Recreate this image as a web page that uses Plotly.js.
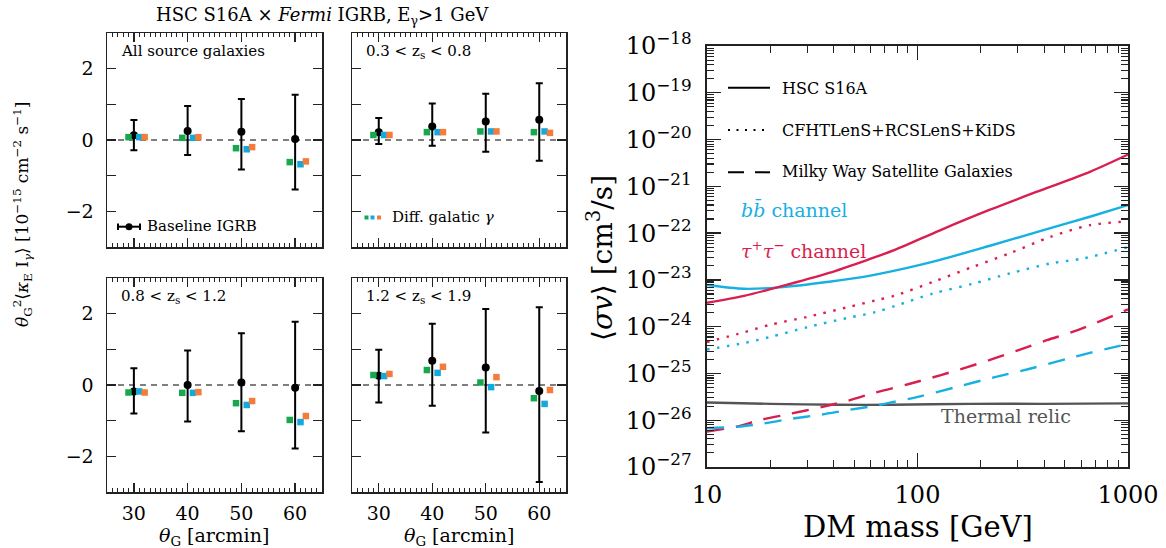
<!DOCTYPE html>
<html><head><meta charset="utf-8">
<script src="https://cdn.plot.ly/plotly-3.0.1.min.js"></script>
<style>html,body{margin:0;padding:0;background:#fff}#chart{width:1166px;height:548px}</style>
</head><body><div id="chart"></div>
<script>
// ---------------- DATA: left panels ----------------
const thetaG = [30, 40, 50, 60];
const offsetGreen = -1, offsetCyan = 1, offsetOrange = 2;
const panelLabels = ['All source galaxies', '0.3 &lt; z<sub>s</sub> &lt; 0.8', '0.8 &lt; z<sub>s</sub> &lt; 1.2', '1.2 &lt; z<sub>s</sub> &lt; 1.9'];

const baseAll   = [0.13, 0.25, 0.23, 0.03];
const errUpAll  = [0.43, 0.70, 0.92, 1.24];
const errDnAll  = [0.42, 0.67, 1.06, 1.42];
const greenAll  = [0.08, 0.06, -0.23, -0.62];
const cyanAll   = [0.08, 0.06, -0.26, -0.68];
const orangeAll = [0.08, 0.08, -0.20, -0.60];

const baseZ1   = [0.22, 0.38, 0.52, 0.57];
const errUpZ1  = [0.40, 0.64, 0.78, 1.02];
const errDnZ1  = [0.33, 0.54, 0.85, 1.15];
const greenZ1  = [0.14, 0.22, 0.24, 0.22];
const cyanZ1   = [0.14, 0.22, 0.24, 0.24];
const orangeZ1 = [0.14, 0.22, 0.24, 0.20];

const baseZ2   = [-0.18, 0.00, 0.07, -0.08];
const errUpZ2  = [0.65, 0.97, 1.38, 1.85];
const errDnZ2  = [0.62, 1.02, 1.37, 1.70];
const greenZ2  = [-0.21, -0.22, -0.51, -0.98];
const cyanZ2   = [-0.18, -0.22, -0.56, -1.04];
const orangeZ2 = [-0.21, -0.20, -0.45, -0.87];

const baseZ3   = [0.26, 0.68, 0.49, -0.17];
const errUpZ3  = [0.73, 1.04, 1.64, 2.35];
const errDnZ3  = [0.75, 1.26, 1.82, 2.55];
const greenZ3  = [0.28, 0.42, 0.07, -0.37];
const cyanZ3   = [0.25, 0.34, -0.06, -0.53];
const orangeZ3 = [0.31, 0.51, 0.22, -0.14];

// ---------------- DATA: right panel ----------------
const massTauHSC = [10, 15, 22, 38, 58, 78, 128, 221, 382, 659, 1000];
const svTauHSC   = [3.24e-24, 4.57e-24, 7.08e-24, 1.41e-23, 2.69e-23, 4.37e-23, 1.15e-22, 3.16e-22, 8.13e-22, 2.04e-21, 4.79e-21];
const massBbHSC  = [10, 15, 22, 38, 58, 78, 128, 221, 382, 659, 1000];
const svBbHSC    = [7.76e-24, 6.46e-24, 6.92e-24, 9.12e-24, 1.20e-23, 1.58e-23, 2.69e-23, 5.37e-23, 1.10e-22, 2.24e-22, 3.98e-22];
const massTauCFHT = [10, 15, 20, 30, 47, 63, 79, 119, 184, 275, 427, 660, 1000];
const svTauCFHT   = [4.68e-25, 7.59e-25, 1.10e-24, 1.62e-24, 2.63e-24, 3.63e-24, 4.68e-24, 9.12e-24, 1.91e-23, 3.72e-23, 8.32e-23, 1.48e-22, 1.78e-22];
const massBbCFHT  = [10, 15, 20, 30, 47, 63, 79, 119, 184, 275, 427, 614, 1000];
const svBbCFHT    = [3.24e-25, 4.47e-25, 6.03e-25, 9.77e-25, 1.55e-24, 2.04e-24, 2.82e-24, 5.13e-24, 8.32e-24, 1.38e-23, 2.24e-23, 2.88e-23, 5.01e-23];
const massTauMW = [10, 14, 18, 25, 35, 47, 63, 92, 128, 171, 228, 307, 411, 572, 1000];
const svTauMW   = [5.75e-27, 7.41e-27, 1.02e-26, 1.38e-26, 1.91e-26, 2.63e-26, 3.89e-26, 6.03e-26, 9.12e-26, 1.35e-25, 2.04e-25, 3.24e-25, 5.13e-25, 8.32e-25, 2.34e-24];
const massBbMW  = [10, 14, 18, 25, 35, 47, 63, 75, 103, 153, 228, 342, 510, 659, 1000];
const svBbMW    = [6.76e-27, 7.24e-27, 8.32e-27, 1.07e-26, 1.32e-26, 1.66e-26, 2.04e-26, 2.40e-26, 3.24e-26, 5.13e-26, 8.13e-26, 1.26e-25, 2.04e-25, 2.75e-25, 4.27e-25];
const massRelic = [10, 20, 42, 76, 176, 391, 1000];
const svRelic   = [2.40e-26, 2.24e-26, 2.14e-26, 2.14e-26, 2.24e-26, 2.24e-26, 2.29e-26];

const yTickVals5 = [1e-27, 1e-26, 1e-25, 1e-24, 1e-23, 1e-22, 1e-21, 1e-20, 1e-19, 1e-18];
const yTickText5 = ['10<sup>−27</sup>','10<sup>−26</sup>','10<sup>−25</sup>','10<sup>−24</sup>','10<sup>−23</sup>','10<sup>−22</sup>','10<sup>−21</sup>','10<sup>−20</sup>','10<sup>−19</sup>','10<sup>−18</sup>'];
const xTickVals5 = [10, 100, 1000];
const xTickText5 = ['10', '100', '1000'];

// ---------------- STYLE ----------------
const W = 1166, H = 548;
const FONT = 'DejaVu Serif';
const GREEN = '#16a74f', CYAN = '#12a9de', ORANGE = '#f47b3a';
const RED = '#d91f4f', LCYAN = '#16b0e2', GRAY = '#555555';
const px = v => v / W, py = v => 1 - v / H;

const panels = [
  {base: baseAll, up: errUpAll, dn: errDnAll, g: greenAll, c: cyanAll, o: orangeAll},
  {base: baseZ1, up: errUpZ1, dn: errDnZ1, g: greenZ1, c: cyanZ1, o: orangeZ1},
  {base: baseZ2, up: errUpZ2, dn: errDnZ2, g: greenZ2, c: cyanZ2, o: orangeZ2},
  {base: baseZ3, up: errUpZ3, dn: errDnZ3, g: greenZ3, c: cyanZ3, o: orangeZ3}
];
const boxes = [
  {x: [107, 322], y: [33, 247]},
  {x: [352, 566], y: [33, 247]},
  {x: [107, 322], y: [278, 492]},
  {x: [352, 566], y: [278, 492]}
];

const traces = [];
const layout = {
  width: W, height: H,
  margin: {l: 0, r: 0, t: 0, b: 0},
  paper_bgcolor: '#fff', plot_bgcolor: '#fff',
  showlegend: false,
  font: {family: FONT, color: '#000'},
  shapes: [], annotations: []
};

panels.forEach((p, i) => {
  const n = i + 1, sx = n === 1 ? '' : String(n);
  const xa = 'x' + sx, ya = 'y' + sx;
  const shift = (arr, d) => arr.map(v => v + d);
  traces.push({x: thetaG, y: p.base, xaxis: xa, yaxis: ya, type: 'scatter', mode: 'markers',
    marker: {color: '#000', size: 8, symbol: 'circle'},
    error_y: {type: 'data', symmetric: false, array: p.up, arrayminus: p.dn, color: '#000', thickness: 2, width: 3.5}});
  [[p.g, offsetGreen, GREEN], [p.c, offsetCyan, CYAN], [p.o, offsetOrange, ORANGE]].forEach(([arr, off, col]) => {
    traces.push({x: shift(thetaG, off), y: arr, xaxis: xa, yaxis: ya, type: 'scatter', mode: 'markers',
      marker: {color: col, size: 6.5, symbol: 'square', line: {width: 0}}});
  });
  const b = boxes[i];
  layout['xaxis' + sx] = {
    domain: [px(b.x[0]), px(b.x[1])], anchor: ya, range: [25, 65],
    tickvals: thetaG, ticktext: thetaG.map(String), showticklabels: n >= 3,
    ticks: 'inside', ticklen: 9, tickwidth: 1.3, tickcolor: '#222',
    minor: {dtick: 1, ticks: 'inside', ticklen: 4, tickwidth: 1, tickcolor: '#222'},
    showline: true, linecolor: '#222', linewidth: 1.5, mirror: 'allticks',
    showgrid: false, zeroline: false, ticklabelstandoff: 4,
    tickfont: {family: FONT, size: 19, color: '#000'}
  };
  layout['yaxis' + sx] = {
    domain: [py(b.y[1]), py(b.y[0])], anchor: xa, range: [-3, 3],
    tickvals: [-2, -1, 0, 1, 2], ticktext: ['−2', '', '0', '', '2'], showticklabels: n % 2 === 1,
    ticks: 'inside', ticklen: 9, tickwidth: 1.3, tickcolor: '#222',
    showline: true, linecolor: '#222', linewidth: 1.5, mirror: 'allticks',
    showgrid: false, zeroline: false, ticklabelstandoff: 8,
    tickfont: {family: FONT, size: 19, color: '#000'}
  };
  layout.shapes.push({type: 'line', layer: 'below', xref: xa + ' domain', yref: ya, x0: 0, x1: 1, y0: 0, y1: 0,
    line: {color: '#555', width: 1.5, dash: '6px,5px'}});
  layout.annotations.push({text: panelLabels[i], xref: 'paper', yref: 'paper',
    x: px(b.x[0] + 12), y: py(b.y[0] + 18), xanchor: 'left', yanchor: 'middle', showarrow: false,
    font: {family: FONT, size: 15, color: '#000'}});
  if (n >= 3) {
    layout.annotations.push({text: '<i>θ</i><sub>G</sub> [arcmin]', xref: 'paper', yref: 'paper',
      x: px((b.x[0] + b.x[1]) / 2), y: py(536), xanchor: 'center', yanchor: 'middle', showarrow: false,
      font: {family: FONT, size: 19, color: '#000'}});
  }
});

// left legends
layout.shapes.push(
  {type: 'line', xref: 'paper', yref: 'paper', x0: px(118), x1: px(140), y0: py(226.7), y1: py(226.7), line: {color: '#000', width: 2}},
  {type: 'line', xref: 'paper', yref: 'paper', x0: px(118), x1: px(118), y0: py(223.5), y1: py(230), line: {color: '#000', width: 2}},
  {type: 'line', xref: 'paper', yref: 'paper', x0: px(140), x1: px(140), y0: py(223.5), y1: py(230), line: {color: '#000', width: 2}},
  {type: 'circle', xref: 'paper', yref: 'paper', x0: px(125.5), x1: px(132.5), y0: py(230.2), y1: py(223.2), fillcolor: '#000', line: {width: 0}},
  {type: 'rect', xref: 'paper', yref: 'paper', x0: px(364.5), x1: px(368.5), y0: py(219.5), y1: py(215.5), fillcolor: GREEN, line: {width: 0}},
  {type: 'rect', xref: 'paper', yref: 'paper', x0: px(370.5), x1: px(374.5), y0: py(219.5), y1: py(215.5), fillcolor: CYAN, line: {width: 0}},
  {type: 'rect', xref: 'paper', yref: 'paper', x0: px(377), x1: px(381), y0: py(219.5), y1: py(215.5), fillcolor: ORANGE, line: {width: 0}}
);
layout.annotations.push(
  {text: 'Baseline IGRB', xref: 'paper', yref: 'paper', x: px(145), y: py(226), xanchor: 'left', yanchor: 'middle', showarrow: false, font: {family: FONT, size: 15}},
  {text: 'Diff. galatic <i>γ</i>', xref: 'paper', yref: 'paper', x: px(390), y: py(217), xanchor: 'left', yanchor: 'middle', showarrow: false, font: {family: FONT, size: 15}},
  {text: 'HSC S16A × <i>Fermi</i> IGRB, E<sub>γ</sub>&gt;1 GeV', xref: 'paper', yref: 'paper', x: px(322), y: py(16), xanchor: 'center', yanchor: 'middle', showarrow: false, font: {family: FONT, size: 18}},
  {text: '<i>θ</i><sub>G</sub><sup>2</sup>⟨<i>κ</i><sub>E</sub> I<sub><i>γ</i></sub>⟩ [10<sup>−15</sup> cm<sup>−2</sup> s<sup>−1</sup>]', xref: 'paper', yref: 'paper', x: px(22), y: py(215), xanchor: 'center', yanchor: 'middle', textangle: -90, showarrow: false, font: {family: FONT, size: 17}}
);

// ---------------- right panel ----------------
function curve(x, y, color, dash) {
  return {x: x, y: y, xaxis: 'x5', yaxis: 'y5', type: 'scatter', mode: 'lines',
    line: {color: color, width: 2.4, dash: dash, shape: 'spline', smoothing: 0.8}};
}
traces.push(
  curve(massRelic, svRelic, GRAY, 'solid'),
  curve(massTauMW, svTauMW, RED, '17px,12px'),
  curve(massBbMW, svBbMW, LCYAN, '17px,12px'),
  curve(massTauCFHT, svTauCFHT, RED, '2.5px,7.5px'),
  curve(massBbCFHT, svBbCFHT, LCYAN, '2.5px,7.5px'),
  curve(massBbHSC, svBbHSC, LCYAN, 'solid'),
  curve(massTauHSC, svTauHSC, RED, 'solid')
);

const minorX = [], minorY = [];
for (let e = 1; e < 3; e++) for (let k = 2; k <= 9; k++) minorX.push(k * Math.pow(10, e));
for (let e = -27; e < -18; e++) for (let k = 2; k <= 9; k++) minorY.push(k * Math.pow(10, e));

layout.xaxis5 = {
  domain: [px(707), px(1128)], anchor: 'y5', type: 'log', range: [1, 3],
  tickvals: xTickVals5, ticktext: xTickText5,
  ticks: 'inside', ticklen: 14, tickwidth: 1.3, tickcolor: '#222',
  minor: {tickvals: minorX, ticks: 'inside', ticklen: 7, tickwidth: 1.1, tickcolor: '#222'},
  showline: true, linecolor: '#222', linewidth: 1.6, mirror: 'allticks',
  showgrid: false, zeroline: false, ticklabelstandoff: 6,
  tickfont: {family: FONT, size: 24, color: '#000'}
};
layout.yaxis5 = {
  domain: [py(467), py(46)], anchor: 'x5', type: 'log', range: [-27, -18],
  tickvals: yTickVals5, ticktext: yTickText5,
  ticks: 'inside', ticklen: 14, tickwidth: 1.3, tickcolor: '#222',
  minor: {tickvals: minorY, ticks: 'inside', ticklen: 7, tickwidth: 1.1, tickcolor: '#222'},
  showline: true, linecolor: '#222', linewidth: 1.6, mirror: 'allticks',
  showgrid: false, zeroline: false, ticklabelstandoff: 9,
  tickfont: {family: FONT, size: 24, color: '#000'}
};

layout.shapes.push(
  {type: 'line', xref: 'paper', yref: 'paper', x0: px(728), x1: px(770), y0: py(87.7), y1: py(87.7), line: {color: '#000', width: 2}},
  {type: 'line', xref: 'paper', yref: 'paper', x0: px(728), x1: px(770), y0: py(130), y1: py(130), line: {color: '#000', width: 2, dash: '2px,6.5px'}},
  {type: 'line', xref: 'paper', yref: 'paper', x0: px(728), x1: px(770), y0: py(172.3), y1: py(172.3), line: {color: '#000', width: 2, dash: '16px,11px'}}
);
const rAnn = (text, x, y, size, color, extra) => Object.assign({text: text, xref: 'paper', yref: 'paper', x: px(x), y: py(y),
  xanchor: 'left', yanchor: 'middle', showarrow: false, font: {family: FONT, size: size, color: color}}, extra || {});
layout.annotations.push(
  rAnn('HSC S16A', 780, 88, 16, '#000'),
  rAnn('CFHTLenS+RCSLenS+KiDS', 780, 130, 16, '#000'),
  rAnn('Milky Way Satellite Galaxies', 780, 172, 16, '#000'),
  rAnn('<i>b</i><i>b̄</i> channel', 739, 209, 19, LCYAN),
  rAnn('<i>τ</i><sup>+</sup><i>τ</i><sup>−</sup> channel', 739, 250, 19, RED),
  rAnn('Thermal relic', 939, 416, 19, GRAY),
  rAnn('⟨<i>σv</i>⟩ [cm<sup>3</sup>/s]', 600, 258, 28, '#000', {xanchor: 'center', textangle: -90}),
  rAnn('DM mass [GeV]', 917.5, 527, 29, '#000', {xanchor: 'center'})
);

Plotly.newPlot('chart', traces, layout, {staticPlot: true, displayModeBar: false});
</script>
</body></html>
